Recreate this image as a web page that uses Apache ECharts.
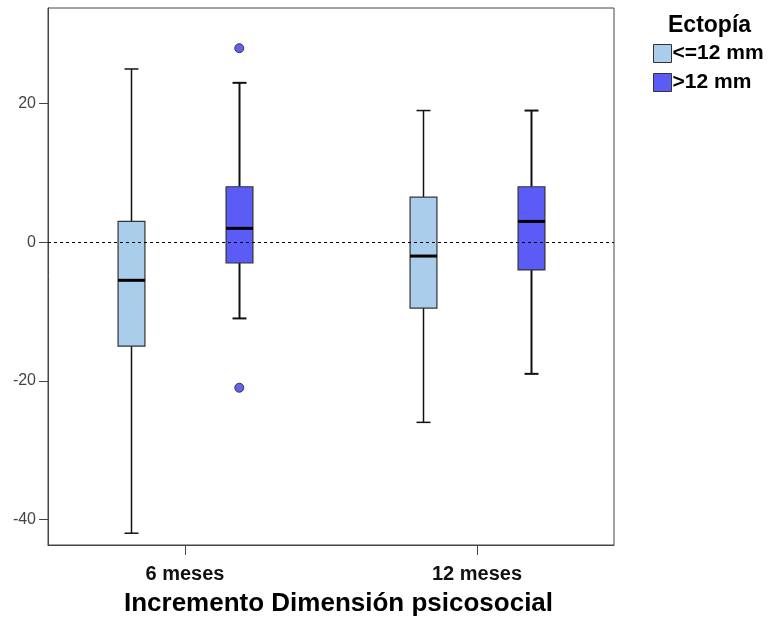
<!DOCTYPE html>
<html><head><meta charset="utf-8">
<script src="https://cdn.jsdelivr.net/npm/echarts@6/dist/echarts.min.js"></script>
<style>html,body{margin:0;padding:0;background:#fff}#c{width:769px;height:630px}</style>
</head><body><div id="c"></div>
<script>
// ---- data ----
const categories = ['6 meses', '12 meses'];
const groupNames = ['<=12 mm', '>12 mm'];
// [min, Q1, median, Q3, max] per category
const boxLe12 = [[-42, -15, -5.5, 3, 25], [-26, -9.5, -2, 6.5, 19]];
const boxGt12 = [[-11, -3, 2, 8, 23], [-19, -4, 3, 8, 19]];
// [category index, value]
const outliersGt12 = [[0, 28], [0, -21]];
const yTicks = [-40, -20, 0, 20];
const referenceValue = 0;
const legendTitle = 'Ectopía';
const xTitle = 'Incremento Dimensión psicosocial';

// ---- styling / layout ----
const FONT = '"Liberation Sans", Arial, sans-serif';
const COLOR_LE = '#a9cdea';
const COLOR_GT = '#5b5cf6';
const OFFSET = 0.186;   // group offset from category centre (axis units)
const BOX_W = 0.092;    // box width (axis units)

function boxRenderer(offset, color, whiskerW) {
  return function (params, api) {
    const c = api.value(0) + offset;
    const lo = api.coord([c, api.value(1)]);
    const q1 = api.coord([c, api.value(2)]);
    const med = api.coord([c, api.value(3)]);
    const q3 = api.coord([c, api.value(4)]);
    const hi = api.coord([c, api.value(5)]);
    const unit = api.size([1, 0])[0];
    const bw = unit * BOX_W;
    const cw = bw * 0.52;
    const x = Math.round(lo[0]) + 0.5;
    const ws = {stroke: '#111', lineWidth: whiskerW};
    return {type: 'group', children: [
      {type: 'line', shape: {x1: x, y1: hi[1], x2: x, y2: q3[1]}, style: ws},
      {type: 'line', shape: {x1: x, y1: q1[1], x2: x, y2: lo[1]}, style: ws},
      {type: 'line', shape: {x1: x - cw / 2, y1: hi[1], x2: x + cw / 2, y2: hi[1]}, style: ws},
      {type: 'line', shape: {x1: x - cw / 2, y1: lo[1], x2: x + cw / 2, y2: lo[1]}, style: ws},
      {type: 'rect', shape: {x: x - bw / 2, y: q3[1], width: bw, height: q1[1] - q3[1]},
        style: {fill: color, stroke: '#333', lineWidth: 1.2}},
      {type: 'line', shape: {x1: x - bw / 2, y1: med[1], x2: x + bw / 2, y2: med[1]},
        style: {stroke: '#000', lineWidth: 3}}
    ]};
  };
}

function outlierRenderer(offset, color) {
  return function (params, api) {
    const p = api.coord([api.value(0) + offset, api.value(1)]);
    return {type: 'circle', shape: {cx: p[0], cy: p[1], r: 4.5},
      style: {fill: color, stroke: '#333366', lineWidth: 1}};
  };
}

const chart = echarts.init(document.getElementById('c'), null, {renderer: 'canvas'});
chart.setOption({
  animation: false,
  backgroundColor: '#fff',
  title: {
    text: legendTitle, left: 668, top: 14, padding: 0,
    textStyle: {fontFamily: FONT, fontSize: 23, fontWeight: 'bold', color: '#000'}
  },
  legend: {
    orient: 'vertical', left: 653, top: 43, itemWidth: 18, itemHeight: 18, itemGap: 8,
    padding: 0, icon: 'rect',
    textStyle: {fontFamily: FONT, fontSize: 21, fontWeight: 'bold', color: '#000', padding: [0, 0, 0, -4]},
    data: [
      {name: groupNames[0], itemStyle: {color: COLOR_LE, borderColor: '#333', borderWidth: 1}},
      {name: groupNames[1], itemStyle: {color: COLOR_GT, borderColor: '#333', borderWidth: 1}}
    ]
  },
  grid: {left: 48, right: 155, top: 8, bottom: 85, show: true, borderColor: '#444', borderWidth: 1},
  xAxis: {
    type: 'value', min: -0.469, max: 1.469,
    axisLine: {show: true, onZero: false, lineStyle: {color: '#444', width: 1}},
    axisTick: {show: true, length: 10, customValues: [0, 1], lineStyle: {color: '#444'}},
    axisLabel: {
      customValues: [0, 1], margin: 19,
      formatter: v => categories[Math.round(v)],
      fontFamily: FONT, fontSize: 20, fontWeight: 'bold', color: '#111'
    },
    splitLine: {show: false},
    name: xTitle, nameLocation: 'middle', nameGap: 46,
    nameTextStyle: {fontFamily: FONT, fontSize: 26, fontWeight: 'bold', color: '#000', padding: [0, 0, 0, 15]}
  },
  yAxis: {
    type: 'value', min: -43.7, max: 33.8,
    axisLine: {show: true, onZero: false, lineStyle: {color: '#444', width: 1}},
    axisTick: {show: true, length: 9, customValues: yTicks, lineStyle: {color: '#444'}},
    axisLabel: {customValues: yTicks, margin: 12, fontFamily: FONT, fontSize: 16, color: '#444'},
    splitLine: {show: false}
  },
  series: [
    {
      name: groupNames[0], type: 'custom', coordinateSystem: 'cartesian2d',
      renderItem: boxRenderer(-OFFSET, COLOR_LE, 1.5),
      itemStyle: {color: COLOR_LE},
      encode: {x: 0, y: [1, 2, 3, 4, 5]},
      data: boxLe12.map((d, i) => [i].concat(d)),
      markLine: {
        silent: true, symbol: 'none', label: {show: false},
        lineStyle: {color: '#000', width: 1, type: [3, 3]},
        data: [{yAxis: referenceValue}]
      },
      z: 3
    },
    {
      name: groupNames[1], type: 'custom', coordinateSystem: 'cartesian2d',
      renderItem: boxRenderer(OFFSET, COLOR_GT, 2),
      itemStyle: {color: COLOR_GT},
      encode: {x: 0, y: [1, 2, 3, 4, 5]},
      data: boxGt12.map((d, i) => [i].concat(d)),
      z: 3
    },
    {
      name: groupNames[1], type: 'custom', coordinateSystem: 'cartesian2d',
      renderItem: outlierRenderer(OFFSET, '#6464e0'),
      itemStyle: {color: COLOR_GT},
      encode: {x: 0, y: 1},
      data: outliersGt12,
      z: 4
    }
  ]
});
</script>
</body></html>
